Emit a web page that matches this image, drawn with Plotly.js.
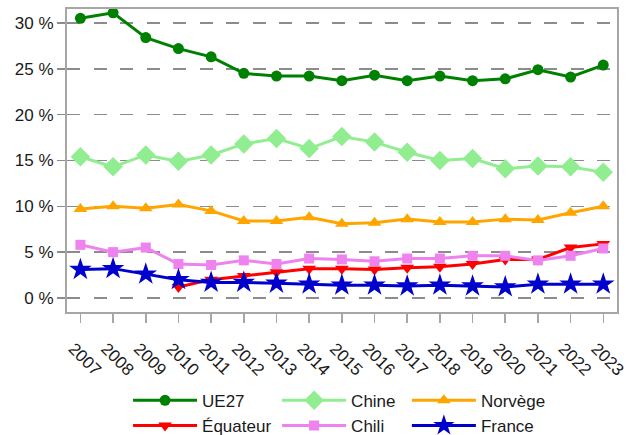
<!DOCTYPE html>
<html>
<head>
<meta charset="utf-8">
<script src="https://cdn.plot.ly/plotly-3.0.1.min.js"></script>
<style>html,body{margin:0;padding:0;background:#fff;}#chart{width:627px;height:435px;}</style>
</head>
<body>
<div id="chart"></div>
<script>
const years = [2007,2008,2009,2010,2011,2012,2013,2014,2015,2016,2017,2018,2019,2020,2021,2022,2023];
const ue27 = [30.5,31.1,28.4,27.2,26.3,24.5,24.2,24.2,23.7,24.3,23.7,24.2,23.7,23.9,24.9,24.1,25.4];
const chine = [15.4,14.3,15.6,14.9,15.6,16.8,17.4,16.3,17.6,17.0,15.9,15.0,15.2,14.1,14.4,14.3,13.7];
const norvege = [9.7,10.0,9.8,10.2,9.5,8.4,8.4,8.8,8.1,8.2,8.6,8.3,8.3,8.6,8.5,9.3,10.0];
const equateurYears = [2010,2011,2012,2013,2014,2015,2016,2017,2018,2019,2020,2021,2022,2023];
const equateur = [1.2,2.0,2.4,2.8,3.2,3.2,3.1,3.3,3.4,3.7,4.2,4.2,5.5,5.9];
const chili = [5.8,5.0,5.5,3.7,3.6,4.1,3.7,4.3,4.2,4.0,4.3,4.3,4.6,4.6,4.1,4.6,5.4];
const france = [3.1,3.2,2.6,2.0,1.7,1.7,1.6,1.5,1.4,1.4,1.3,1.4,1.3,1.2,1.5,1.5,1.5];
const yTicks = [0,5,10,15,20,25,30];

function tr(name, x, y, color, symbol, size, legend) {
  return {x: x, y: y, name: name, type: 'scatter', mode: 'lines+markers',
    line: {color: color, width: 3},
    marker: {color: color, symbol: symbol, size: size},
    legend: legend};
}
const data = [
  tr('UE27', years, ue27, '#008000', 'circle', 11, 'legend'),
  tr('Chine', years, chine, '#90EE90', 'diamond', 15, 'legend2'),
  tr('Norvège', years, norvege, '#FFA500', 'triangle-up', 12, 'legend3'),
  tr('Équateur', equateurYears, equateur, '#FF0000', 'triangle-down', 12, 'legend'),
  tr('Chili', years, chili, '#EE82EE', 'square', 10, 'legend2'),
  tr('France', years, france, '#0000CD', 'star', 17, 'legend3')
];
const legFont = {family: 'Liberation Sans, Arial, sans-serif', size: 17, color: '#1a1a1a'};
function leg(x) {
  return {x: x, y: 0.12, xref: 'paper', yref: 'container', xanchor: 'left', yanchor: 'top', orientation: 'v',
    font: legFont, itemwidth: 64, bgcolor: 'rgba(0,0,0,0)', tracegroupgap: 0};
}
const layout = {
  width: 627, height: 435,
  margin: {l: 67, r: 10, t: 9, b: 123},
  paper_bgcolor: '#fff', plot_bgcolor: '#fff',
  font: {family: 'Liberation Sans, Arial, sans-serif', size: 17, color: '#1a1a1a'},
  xaxis: {
    range: [2006.59, 2023.42], tickvals: years, ticktext: years.map(String),
    tickangle: 45, ticks: 'outside', ticklen: 9, tickwidth: 1.5, tickcolor: '#a6a6a6',
    ticklabeloverflow: 'allow', ticklabelstandoff: 9, ticklabelshift: -7,
    showgrid: false, zeroline: false, automargin: false,
    showline: true, linecolor: '#a6a6a6', linewidth: 2, mirror: true,
    tickfont: {size: 17, color: '#1a1a1a'}
  },
  yaxis: {
    range: [-1.53, 31.52], tickvals: yTicks, ticktext: yTicks.map(v => v + ' %'),
    ticks: 'outside', ticklen: 8, tickwidth: 1.5, tickcolor: '#8c8c8c',
    showgrid: true, gridcolor: '#8c8c8c', gridwidth: 1.5, griddash: '13px,13.5px',
    zeroline: false, automargin: false,
    showline: true, linecolor: '#a6a6a6', linewidth: 2, mirror: true,
    tickfont: {size: 17, color: '#1a1a1a'}
  },
  showlegend: true,
  legend: leg(0.111),
  legend2: leg(0.382),
  legend3: leg(0.618)
};
Plotly.newPlot('chart', data, layout, {displayModeBar: false, staticPlot: true});
</script>
</body>
</html>
